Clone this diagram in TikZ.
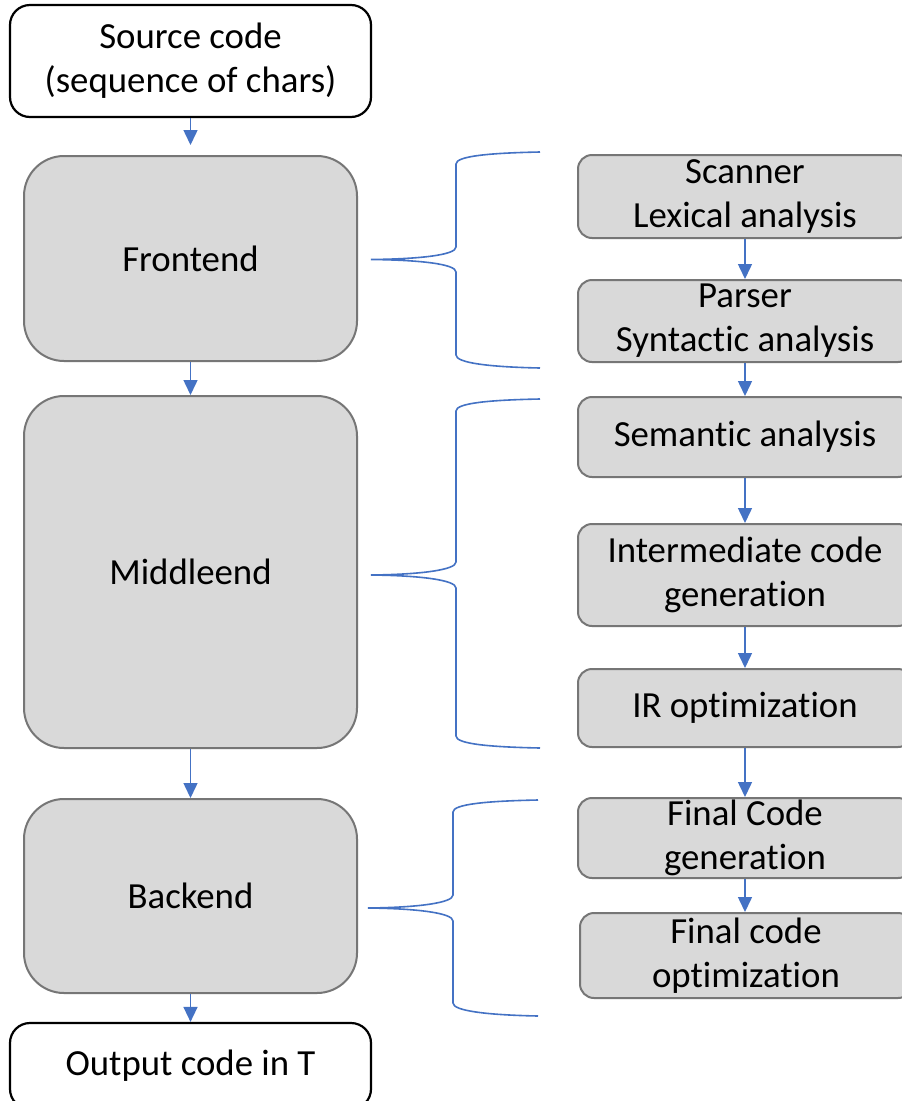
\documentclass[tikz,border=0pt]{standalone}
\usepackage{fontspec}
\setmainfont[Ligatures={NoCommon}]{Carlito}
\usetikzlibrary{arrows.meta}
\definecolor{boxfill}{HTML}{D9D9D9}
\definecolor{boxline}{HTML}{767676}
\definecolor{accent}{HTML}{4472C4}
\tikzset{
  txt/.style={font=\fontsize{36.8}{44}\selectfont, align=center, inner sep=0pt},
  whitebox/.style={txt, draw=black, line width=2.2pt, rounded corners=20pt, fill=white},
  bigbox/.style={txt, draw=boxline, line width=2pt, rounded corners=40pt, fill=boxfill, minimum width=333pt},
  smallbox/.style={txt, draw=boxline, line width=2pt, rounded corners=14pt, fill=boxfill, minimum width=334pt},
  flow/.style={accent, line width=1.5pt, -{Triangle[width=14pt,length=15pt]}},
  bracepath/.style={accent, line width=1.6pt}
}
\begin{document}
\begin{tikzpicture}[x=1pt,y=-1pt]
\clip (0,0) rectangle (902,1101);
\fill[white] (0,0) rectangle (902,1101);
% left column
\node[whitebox, minimum width=361pt, minimum height=112pt] (src) at (190.5,61) {Source code\\(sequence of chars)};
\node[bigbox, minimum height=205pt] (front) at (190.5,258.5) {Frontend};
\node[bigbox, minimum height=352pt] (middle) at (190.5,572) {Middleend};
\node[bigbox, minimum height=194pt] (back) at (190.5,896) {Backend};
\node[whitebox, minimum width=361pt, minimum height=86pt] (out) at (190.5,1066) {Output code in T};
% right column
\node[smallbox, minimum height=83pt] (scan) at (745,196.5) {Scanner\\Lexical analysis};
\node[smallbox, minimum height=82pt] (parse) at (745,321) {Parser\\Syntactic analysis};
\node[smallbox, minimum height=80pt] (sem) at (745,437) {Semantic analysis};
\node[smallbox, minimum height=102pt] (inter) at (745,575) {Intermediate code\\generation};
\node[smallbox, minimum height=78pt] (ir) at (745,708) {IR optimization};
\node[smallbox, minimum height=80pt] (fcg) at (745,838) {Final Code\\generation};
\node[smallbox, minimum height=85pt, minimum width=332pt] (fco) at (746,955.5) {Final code\\optimization};
% arrows left
\draw[flow, shorten >=10pt] (src) -- (front);
\draw[flow] (front) -- (middle);
\draw[flow] (middle) -- (back);
\draw[flow] (back) -- (out);
% arrows right
\draw[flow] (scan.south -| 745,0) -- (parse.north -| 745,0);
\draw[flow] (parse.south -| 745,0) -- (sem.north -| 745,0);
\draw[flow] (sem.south -| 745,0) -- (inter.north -| 745,0);
\draw[flow] (inter.south -| 745,0) -- (ir.north -| 745,0);
\draw[flow] (ir.south -| 745,0) -- (fcg.north -| 745,0);
\draw[flow] (fcg.south -| 745,0) -- (fco.north -| 745,0);
% braces
\draw[bracepath] (540,152) .. controls (490,153) and (456,156) .. (456,164) -- (456,247)
  .. controls (456,255) and (420,259) .. (371,259.5)
  .. controls (420,260) and (456,264) .. (456,272) -- (456,355)
  .. controls (456,363) and (490,367) .. (540,368);
\draw[bracepath] (540,399) .. controls (490,400) and (456,403) .. (456,411) -- (456,562)
  .. controls (456,570) and (420,574.5) .. (371,575)
  .. controls (420,575.5) and (456,580) .. (456,588) -- (456,736)
  .. controls (456,744) and (490,747) .. (540,748);
\draw[bracepath] (538,800) .. controls (488,801) and (453,804) .. (453,812) -- (453,895)
  .. controls (453,903) and (417,907.5) .. (368,908)
  .. controls (417,908.5) and (453,913) .. (453,921) -- (453,1003)
  .. controls (453,1011) and (488,1015) .. (538,1016);
\end{tikzpicture}
\end{document}
